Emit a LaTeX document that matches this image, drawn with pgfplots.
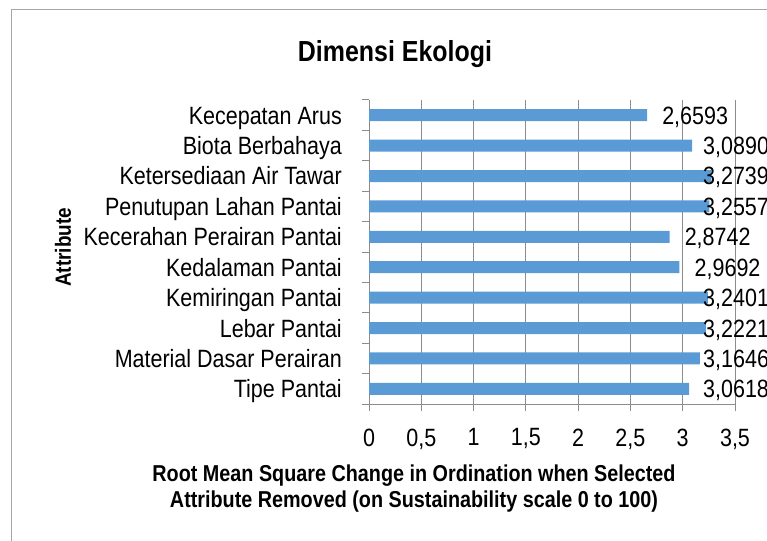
\documentclass[border=0pt]{standalone}
\usepackage{pgfplots}
\pgfplotsset{compat=1.18}
\usepackage{pgfplotstable}
\usepackage{fontspec}
\setmainfont[FakeStretch=0.86]{Liberation Sans}
\definecolor{barblue}{HTML}{5B9BD5}
\definecolor{axgray}{HTML}{8C8C8C}

\pgfplotstableread{
y val s
0 3.0618 13.8
1 3.1646 3.1
2 3.2221 -2.9
3 3.2401 -4.8
4 2.9692 15
5 2.8742 15
6 3.2557 -6.5
7 3.2739 -8.4
8 3.0890 11.0
9 2.6593 15
}\datatable

\begin{document}
\begin{tikzpicture}
\path[use as bounding box] (0,0) rectangle (767bp,-541bp);
\clip (0,0) rectangle (767bp,-541bp);
\draw[color=black!35, line width=1bp] (11bp,-9bp) rectangle (790bp,-570bp);
\begin{axis}[
  at={(369bp,-404bp)}, anchor=south west,
  scale only axis, width=366bp, height=304bp,
  clip=false,
  xbar, bar width=12bp,
  xmin=0, xmax=3.5,
  ymin=-0.5, ymax=9.5,
  axis x line*=bottom, axis y line*=left,
  axis line style={draw=axgray, line width=1bp, -},
  xtick={0,0.5,...,3.5},
  ytick={0,...,9},
  yticklabels={Tipe Pantai,Material Dasar Perairan,Lebar Pantai,Kemiringan Pantai,Kedalaman Pantai,Kecerahan Perairan Pantai,Penutupan Lahan Pantai,Ketersediaan Air Tawar,Biota Berbahaya,Kecepatan Arus},
  minor ytick={-0.5,0.5,...,9.5},
  tick align=outside,
  major tick length=7bp, minor tick length=7bp,
  tick style={draw=axgray, line width=1bp},
  major y tick style={draw=none},
  xmajorgrids,
  major x grid style={draw=axgray, line width=1bp},
  /pgf/number format/.cd, use comma, 1000 sep={}, assume math mode=true,
  /pgfplots/.cd,
  ticklabel style={font=\fontsize{25bp}{29bp}\selectfont, inner sep=0pt},
  yticklabel style={anchor=base east, xshift=-20bp, yshift=-9bp},
  xticklabel style={anchor=north, yshift=-17.5bp},
  title={Dimensi Ekologi},
  title style={font=\fontsize{29bp}{33bp}\selectfont\bfseries, at={(rel axis cs:0,1)}, anchor=north, inner sep=0pt, xshift=26bp, yshift=54bp},
  xlabel={Root Mean Square Change in Ordination when Selected\\Attribute Removed (on Sustainability scale 0 to 100)},
  xlabel style={font=\fontsize{23bp}{26bp}\selectfont\bfseries, align=center, at={(rel axis cs:0,0)}, anchor=north, inner sep=0pt, xshift=45bp, yshift=-61bp},
  ylabel={Attribute},
  ylabel style={font=\fontsize{22bp}{24bp}\selectfont\bfseries, at={(rel axis cs:0,0.515)}, anchor=center, inner sep=0pt, yshift=306bp},
  point meta=x,
  nodes near coords={\pgfmathprintnumber[fixed,fixed zerofill,precision=4,use comma,assume math mode=true]{\pgfplotspointmeta}},
  visualization depends on={\thisrow{s} \as \lshift},
  nodes near coords style={font=\fontsize{25bp}{29bp}\selectfont, anchor=base west, inner sep=0pt, xshift=\lshift bp, yshift=-9bp, text=black},
]
\addplot[fill=barblue, draw=none, bar shift=0pt] table[x=val, y=y] {\datatable};
\end{axis}
\end{tikzpicture}
\end{document}
